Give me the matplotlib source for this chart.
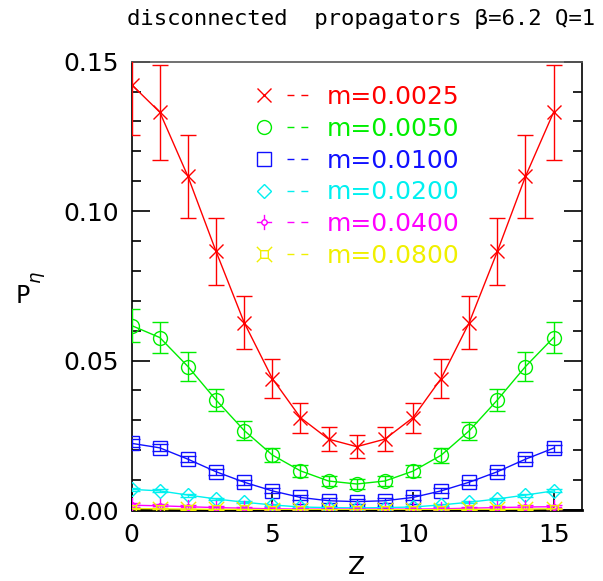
import numpy as np
import matplotlib
matplotlib.use("Agg")
import matplotlib.pyplot as plt
from matplotlib.lines import Line2D
from matplotlib.path import Path
from matplotlib.legend_handler import HandlerTuple

# Time slice
z = np.arange(16)

# Disconnected eta propagators, one array per quark mass
p_m0025 = [0.1423, 0.1331, 0.1116, 0.0865, 0.0627, 0.0440, 0.0309, 0.0237,
           0.0212, 0.0237, 0.0309, 0.0440, 0.0627, 0.0865, 0.1116, 0.1331]
e_m0025 = [0.0167, 0.0159, 0.0138, 0.0112, 0.0089, 0.0066, 0.0050, 0.0041,
           0.0038, 0.0041, 0.0050, 0.0066, 0.0089, 0.0112, 0.0138, 0.0159]

p_m0050 = [0.0617, 0.0577, 0.0480, 0.0368, 0.0266, 0.0184, 0.0131, 0.0097,
           0.0087, 0.0097, 0.0130, 0.0183, 0.0265, 0.0368, 0.0480, 0.0577]
e_m0050 = [0.0054, 0.0052, 0.0047, 0.0038, 0.0031, 0.0025, 0.0019, 0.0016,
           0.0016, 0.0016, 0.0019, 0.0025, 0.0031, 0.0038, 0.0047, 0.0052]

p_m0100 = [0.0223, 0.0208, 0.0170, 0.0128, 0.0093, 0.0064, 0.0042, 0.0031,
           0.0028, 0.0031, 0.0042, 0.0064, 0.0093, 0.0128, 0.0170, 0.0207]
e_m0100 = [0.0013, 0.0012, 0.0011, 0.0010, 0.0009, 0.0008, 0.0008, 0.0008,
           0.0008, 0.0008, 0.0008, 0.0008, 0.0009, 0.0010, 0.0011, 0.0012]

p_m0200 = [0.0069, 0.0064, 0.0050, 0.0037, 0.0026, 0.0017, 0.0010, 0.0008,
           0.0007, 0.0008, 0.0010, 0.0017, 0.0026, 0.0037, 0.0050, 0.0064]
e_m0200 = [0.0005, 0.0005, 0.0005, 0.0004, 0.0004, 0.0004, 0.0004, 0.0004,
           0.0004, 0.0004, 0.0004, 0.0004, 0.0004, 0.0004, 0.0005, 0.0005]

p_m0400 = [0.0016, 0.0014, 0.0011, 0.0008, 0.0006, 0.0004, 0.0003, 0.0003,
           0.0003, 0.0003, 0.0003, 0.0004, 0.0006, 0.0008, 0.0010, 0.0011]
e_m0400 = [0.0007, 0.0007, 0.0006, 0.0006, 0.0005, 0.0005, 0.0005, 0.0005,
           0.0005, 0.0005, 0.0005, 0.0005, 0.0005, 0.0006, 0.0006, 0.0007]

p_m0800 = [0.0005, 0.0004, 0.0003, 0.0002, 0.0002, 0.0001, 0.0001, 0.0001,
           0.0001, 0.0001, 0.0001, 0.0001, 0.0002, 0.0002, 0.0003, 0.0004]
e_m0800 = [0.0002, 0.0002, 0.0002, 0.0002, 0.0002, 0.0002, 0.0002, 0.0002,
           0.0002, 0.0002, 0.0002, 0.0002, 0.0002, 0.0002, 0.0002, 0.0002]

mass_labels = ['m=0.0025', 'm=0.0050', 'm=0.0100', 'm=0.0200', 'm=0.0400', 'm=0.0800']
y_ticks = [0.0, 0.05, 0.10, 0.15]
y_tick_labels = ['0.00', '0.05', '0.10', '0.15']
x_ticks = [0, 5, 10, 15]


def star_marker():
    """small circle with four spikes"""
    circ = Path.circle((0, 0), 0.35)
    spikes = Path([(0, 0.35), (0, 1), (0, -0.35), (0, -1),
                   (0.35, 0), (1, 0), (-0.35, 0), (-1, 0)],
                  [Path.MOVETO, Path.LINETO] * 4)
    return Path.make_compound_path(circ, spikes)


def boxcross_marker():
    """square with diagonal spikes at the corners"""
    s = 0.5
    box = Path([(-s, -s), (s, -s), (s, s), (-s, s), (-s, -s)],
               [Path.MOVETO] + [Path.LINETO] * 4)
    spikes = Path([(s, s), (1, 1), (-s, s), (-1, 1),
                   (s, -s), (1, -1), (-s, -s), (-1, -1)],
                  [Path.MOVETO, Path.LINETO] * 4)
    return Path.make_compound_path(box, spikes)


series = [
    (p_m0025, e_m0025, '#ff0000', 'x', 10),
    (p_m0050, e_m0050, '#00ee00', 'o', 10),
    (p_m0100, e_m0100, '#1010ff', 's', 10),
    (p_m0200, e_m0200, '#00f0f0', 'D', 7),
    (p_m0400, e_m0400, '#ff00ff', star_marker(), 11),
    (p_m0800, e_m0800, '#f0f000', boxcross_marker(), 11),
]

fig = plt.figure(figsize=(6.03, 5.81), dpi=100)
ax = fig.add_axes([0.2184, 0.1222, 0.7463, 0.7716])

handles = []
for (vals, errs, col, mk, ms), lab in zip(series, mass_labels):
    ax.errorbar(z, vals, yerr=errs, color=col, marker=mk, ms=ms, mfc='none',
                mec=col, mew=1.0, lw=1.0, elinewidth=1.0, capsize=6,
                capthick=1.0, clip_on=True, zorder=3)
    h_mk = Line2D([], [], color=col, marker=mk, ms=ms, mfc='none', mew=1.0, ls='none')
    h_ln = Line2D([], [], color=col, ls=(0, (5, 5)), lw=1.0)
    handles.append((h_mk, h_ln))

leg = ax.legend(handles, mass_labels, handler_map={tuple: HandlerTuple(ndivide=None, pad=0.4)},
                loc='upper left', bbox_to_anchor=(0.245, 0.97), frameon=False,
                handlelength=2.4, handletextpad=0.6, labelspacing=0.31,
                borderaxespad=0.0, fontsize=18)
for txt, (vals, errs, col, mk, ms) in zip(leg.get_texts(), series):
    txt.set_color(col)

ax.set_xlim(0, 16)
ax.set_ylim(0, 0.15)
ax.set_xticks(x_ticks)
ax.set_xticklabels([str(t) for t in x_ticks])
ax.set_yticks(y_ticks)
ax.set_yticklabels(y_tick_labels)
ax.set_yticks(np.arange(0, 0.151, 0.01), minor=True)

ax.tick_params(which='major', direction='in', length=13, width=1.2,
               labelsize=18, pad=9, right=True, top=False)
ax.tick_params(which='minor', direction='in', length=6.5, width=1.2,
               right=True, left=True)
ax.tick_params(axis='x', which='minor', bottom=False)

for side in ['left', 'right']:
    ax.spines[side].set_linewidth(1.2)
ax.spines['bottom'].set_linewidth(2.0)
ax.spines['top'].set_linewidth(1.2)
ax.spines['top'].set_color('0.35')

ax.set_xlabel('Z', fontsize=18, labelpad=6)
fig.text(0.038, 0.49, 'P', fontsize=17, ha='center', va='center')
fig.text(0.063, 0.523, r'$\eta$', fontsize=13, ha='center', va='center', rotation=90)

fig.text(0.987, 0.968, 'disconnected  propagators \u03b2=6.2 Q=1', fontsize=16,
         family='DejaVu Sans Mono', ha='right', va='center')

fig.savefig('out.png', dpi=100)
